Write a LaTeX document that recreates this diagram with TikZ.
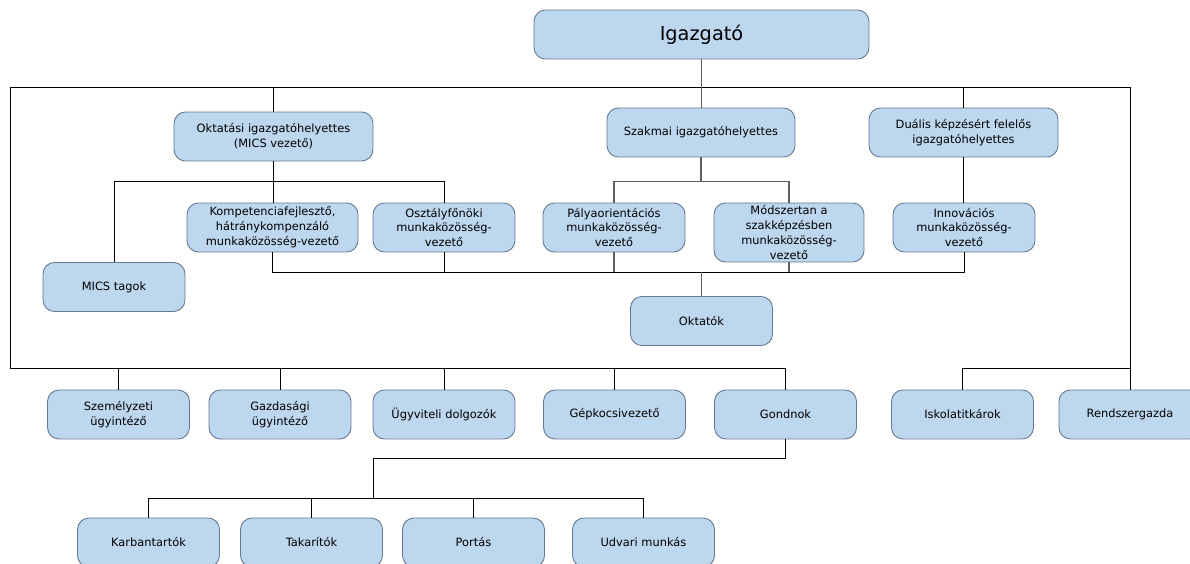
\documentclass[tikz,border=0pt]{standalone}
\usepackage{fontspec}
\setmainfont{DejaVu Sans}
\usepackage{xcolor}
\usepackage{tikz}

\definecolor{boxfill}{RGB}{189,215,238}
\definecolor{boxline}{RGB}{100,120,145}
\definecolor{linegray}{RGB}{95,95,95}

\begin{document}
\begin{tikzpicture}[x=0.02cm, y=-0.02cm]
\tikzset{box/.style={draw=boxline, fill=boxfill, line width=0.5pt, rounded corners=6.5pt, align=center, inner sep=1pt, minimum height=0.98cm, minimum width=2.84cm, font=\fontsize{6.5}{8.5}\selectfont}}
\tikzset{link/.style={line width=0.45pt}}
\tikzset{thicklink/.style={draw=linegray, line width=1.1pt}}

\useasboundingbox (0,0) rectangle (1190,564);

% vezetés
\node [box, minimum width=6.7cm, font=\fontsize{11}{13}\selectfont] (igazgato) at (701.5,34.5) {Igazgató};

\node [box, minimum width=3.98cm] (oktatasi) at (273.5,136.5) {Oktatási igazgatóhelyettes\\(MICS vezető)};
\node [box, minimum width=3.76cm] (szakmai) at (701,132.5) {Szakmai igazgatóhelyettes};
\node [box, minimum width=3.78cm] (dualis) at (963.5,132.5) {Duális képzésért felelős\\igazgatóhelyettes};

% munkaközösségek
\node [box, minimum width=3.42cm] (kompetencia) at (272.5,227.5) {Kompetenciafejlesztő,\\hátránykompenzáló\\munkaközösség-vezető};
\node [box] (osztaly) at (444,227.5) {Osztályfőnöki\\munkaközösség-\\vezető};
\node [box] (palya) at (614,227.5) {Pályaorientációs\\munkaközösség-\\vezető};
\node [box, minimum width=3.0cm, minimum height=1.18cm] (modszertan) at (789,232.5) {Módszertan a\\szakképzésben\\munkaközösség-\\vezető};
\node [box] (innovacio) at (964,227.5) {Innovációs\\munkaközösség-\\vezető};

\node [box] (mics) at (114,287) {MICS tagok};
\node [box] (oktatok) at (701.5,321) {Oktatók};

% alkalmazottak
\node [box] (szemely) at (118.5,414.5) {Személyzeti\\ügyintéző};
\node [box] (gazdasagi) at (280,414.5) {Gazdasági\\ügyintéző};
\node [box] (ugyviteli) at (444,414.5) {Ügyviteli dolgozók};
\node [box] (gepkocsi) at (614.5,414.5) {Gépkocsivezető};
\node [box] (gondnok) at (785.5,414.5) {Gondnok};
\node [box] (iskola) at (962.5,414.5) {Iskolatitkárok};
\node [box] (rendszer) at (1130,414.5) {Rendszergazda};

\node [box] (karban) at (148.5,542.5) {Karbantartók};
\node [box] (takarito) at (311.5,542.5) {Takarítók};
\node [box] (portas) at (473.5,542.5) {Portás};
\node [box] (udvari) at (643.5,542.5) {Udvari munkás};

% vonalak
\coordinate (tl) at (10,87);
\coordinate (tr) at (1130,87);
\coordinate (bl) at (10,368.5);
\coordinate (okt-bus) at (0,181.5);
\coordinate (mk-bus) at (0,272.5);
\coordinate (gond-bend) at (373,458);
\coordinate (lent-bus) at (373,498);

\draw [link] (tr) -- (tl) -- (bl) -| (gondnok.north);
\draw [link] (tr) -- (rendszer.north);
\draw [link] (iskola.north) |- (bl -| rendszer.north);
\draw [thicklink] (igazgato.south) -- (igazgato.south |- szakmai.north);

\draw [link] (oktatasi.north) -- (oktatasi.north |- tl);
\draw [link] (dualis.north) -- (dualis.north |- tl);
\draw [link] (dualis.south) -- (dualis.south |- innovacio.north);

\draw [link] (oktatasi.south) -- (oktatasi.south |- kompetencia.north);
\draw [link] (mics.north) -- (mics.north |- okt-bus) -| (osztaly.north);

\draw [thicklink] (szakmai.south) -- (szakmai.south |- okt-bus);
\draw [thicklink] (palya.north) -- (palya.north |- okt-bus) -| (modszertan.north);

\draw [link] (kompetencia.south) -- (kompetencia.south |- mk-bus) -| (innovacio.south);
\draw [link] (osztaly.south) -- (osztaly.south |- mk-bus);
\draw [thicklink] (palya.south) -- (palya.south |- mk-bus);
\draw [thicklink] (modszertan.south) -- (modszertan.south |- mk-bus);
\draw [thicklink] (oktatok.north) -- (oktatok.north |- mk-bus);

\draw [link] (szemely.north) -- (szemely.north |- bl);
\draw [link] (gazdasagi.north) -- (gazdasagi.north |- bl);
\draw [link] (ugyviteli.north) -- (ugyviteli.north |- bl);
\draw [link] (gepkocsi.north) -- (gepkocsi.north |- bl);

\draw [link] (gondnok.south) |- (gond-bend) -- (lent-bus);
\draw [link] (karban.north) -- (karban.north |- lent-bus) -| (udvari.north);
\draw [link] (takarito.north) -- (takarito.north |- lent-bus);
\draw [link] (portas.north) -- (portas.north |- lent-bus);

\end{tikzpicture}
\end{document}
